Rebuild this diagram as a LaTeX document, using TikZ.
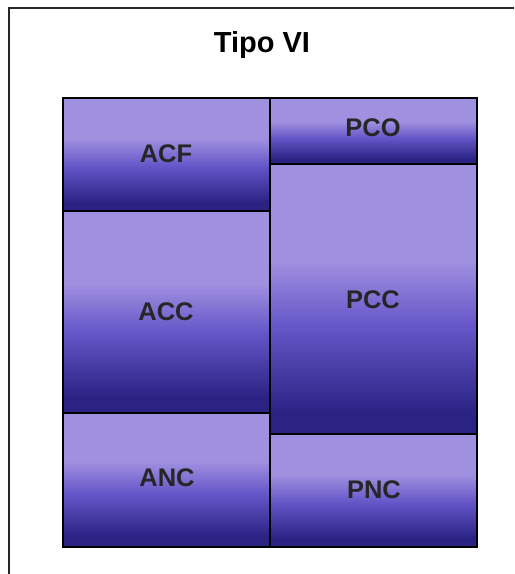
\documentclass[tikz,border=0pt]{standalone}
\usepackage{fontspec}
\setsansfont{Liberation Sans}
\usepackage{tikz}
\usetikzlibrary{positioning}
\definecolor{lilac}{HTML}{A090E0}
\definecolor{violet}{HTML}{6656C8}
\definecolor{navy}{HTML}{2A2384}
\pgfdeclareverticalshading{cellshade}{100bp}{color(0bp)=(navy); color(29bp)=(navy); color(45bp)=(violet); color(57bp)=(lilac); color(100bp)=(lilac)}

\begin{document}
\begin{tikzpicture}[x=0.02cm, y=-0.02cm,
    cell/.style={shading=cellshade, draw=black, line width=1.1pt},
    lbl/.style={font=\sffamily\bfseries\fontsize{14.5}{17}\selectfont, text=black!85},
    frame/.style={draw=black!85, line width=0.8pt}]
    \useasboundingbox (0,0) rectangle (514,574);
    \fill[white] (0,0) rectangle (514,574);
    % Rahmen, rechts und unten abgeschnitten
    \draw[frame] (9,574) -- (9,8) -- (514,8);
    \node[font=\sffamily\bfseries\fontsize{16.5}{19}\selectfont] (titel) at (262,45) {Tipo VI};
    % linke Spalte
    \shade[cell] (63,98) rectangle (270,211);
    \shade[cell] (63,211) rectangle (270,413);
    \shade[cell] (63,413) rectangle (270,547);
    % rechte Spalte
    \shade[cell] (270,98) rectangle (477,164);
    \shade[cell] (270,164) rectangle (477,434);
    \shade[cell] (270,434) rectangle (477,547);
    \node[lbl] (acf) at (166,154) {ACF};
    \node[lbl] (acc) at (166,312) {ACC};
    \node[lbl] (anc) at (167,478) {ANC};
    \node[lbl] (pco) at (373,128) {PCO};
    \node[lbl] (pcc) at (373,300) {PCC};
    \node[lbl] (pnc) at (374,490) {PNC};
\end{tikzpicture}
\end{document}
